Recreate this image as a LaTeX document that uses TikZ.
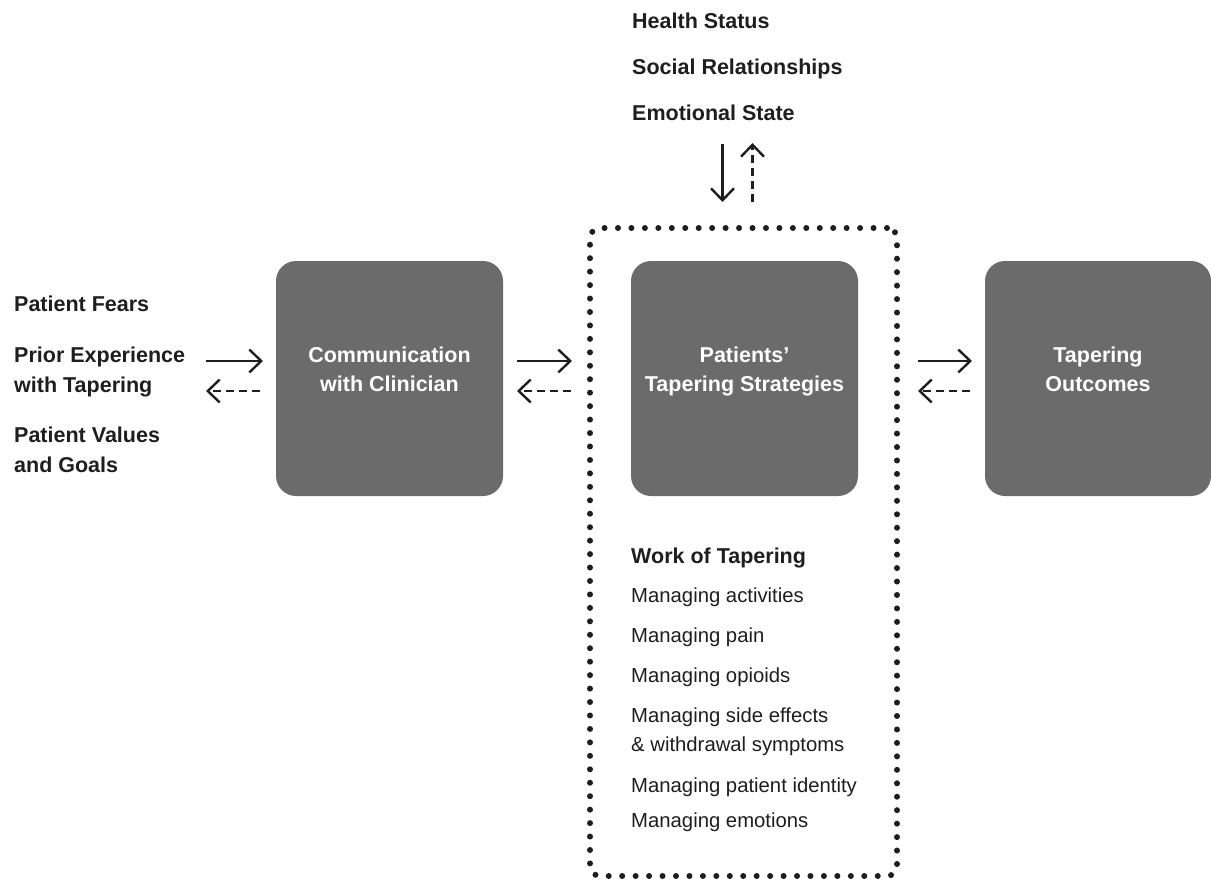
\documentclass[tikz,border=0pt]{standalone}
\usepackage{fontspec}
\setmainfont{Liberation Sans}
\usetikzlibrary{arrows.meta}
\definecolor{boxgray}{HTML}{6B6B6B}
\definecolor{ink}{HTML}{1E1E1E}
\tikzset{
  box/.style={fill=boxgray, rounded corners=20pt, minimum width=227pt, minimum height=235pt, draw=none, inner sep=0pt},
  hd/.style={font=\fontsize{21.5}{26}\selectfont\bfseries, text=ink, inner sep=0pt, anchor=base west},
  bxt/.style={font=\fontsize{21.5}{26}\selectfont\bfseries, text=white, inner sep=0pt, anchor=base},
  itm/.style={font=\fontsize{20.3}{25}\selectfont, text=ink, inner sep=0pt, anchor=base west},
  solidarr/.style={-{Straight Barb[length=12pt,width=23pt]}, line width=2.4pt, draw=ink},
  dasharr/.style={solidarr, dash pattern=on 8pt off 5pt},
  groupbox/.style={draw=ink, line width=6pt, line cap=round, dash pattern=on 0pt off 13.45pt, rounded corners=10pt, minimum width=307pt, minimum height=648pt, inner sep=0pt}
}
\begin{document}
\begin{tikzpicture}[x=1pt,y=-1pt]
\useasboundingbox (0,0) rectangle (1211,880);
% group
\node[groupbox] (grp) at (743.5,552) {};
% boxes
\node[box] (comm) at (389.5,378.5) {};
\node[box] (pat) at (744.5,378.5) {};
\node[box, minimum width=226pt] (out) at (1098,378.5) {};
% box texts
\node[bxt] (comm1) at (389.5,362) {Communication};
\node[bxt] (comm2) at (389.5,391) {with Clinician};
\node[bxt] (pat1) at (744.5,362) {Patients’};
\node[bxt] (pat2) at (744.5,391) {Tapering Strategies};
\node[bxt] (out1) at (1098,362) {Tapering};
\node[bxt] (out2) at (1098,391) {Outcomes};
% top texts
\node[hd] (hs) at (632,29) {Health Status};
\node[hd] (sr) at (632,75) {Social Relationships};
\node[hd] (es) at (632,121) {Emotional State};
% left texts
\node[hd] (pf) at (14,311) {Patient Fears};
\node[hd] (pe1) at (14,362) {Prior Experience};
\node[hd] (pe2) at (14,392) {with Tapering};
\node[hd] (pv1) at (14,442) {Patient Values};
\node[hd] (pv2) at (14,472) {and Goals};
% work of tapering
\node[hd] (wt) at (631,563) {Work of Tapering};
\node[itm] (m1) at (631,602) {Managing activities};
\node[itm] (m2) at (631,642) {Managing pain};
\node[itm] (m3) at (631,682) {Managing opioids};
\node[itm] (m4) at (631,722) {Managing side effects};
\node[itm] (m5) at (631,751) {\& withdrawal symptoms};
\node[itm] (m6) at (631,792) {Managing patient identity};
\node[itm] (m7) at (631,827) {Managing emotions};
% arrow coordinates
\coordinate (vs1) at (722.5,144);
\coordinate (vs2) at (722.5,202);
\coordinate (vd1) at (752.5,202);
\coordinate (vd2) at (752.5,143);
\coordinate (l1a) at (206,361);
\coordinate (l1b) at (263,361);
\coordinate (l2a) at (260,391);
\coordinate (l2b) at (206,391);
\coordinate (c1a) at (517,361);
\coordinate (c1b) at (572,361);
\coordinate (c2a) at (571,391);
\coordinate (c2b) at (517,391);
\coordinate (r1a) at (918,361);
\coordinate (r1b) at (972,361);
\coordinate (r2a) at (970,391);
\coordinate (r2b) at (918,391);
% arrows
\draw[solidarr] (vs1) -- (vs2);
\draw[dasharr] (vd1) -- (vd2);
\draw[solidarr] (l1a) -- (l1b);
\draw[dasharr] (l2a) -- (l2b);
\draw[solidarr] (c1a) -- (c1b);
\draw[dasharr] (c2a) -- (c2b);
\draw[solidarr] (r1a) -- (r1b);
\draw[dasharr] (r2a) -- (r2b);
\end{tikzpicture}
\end{document}
